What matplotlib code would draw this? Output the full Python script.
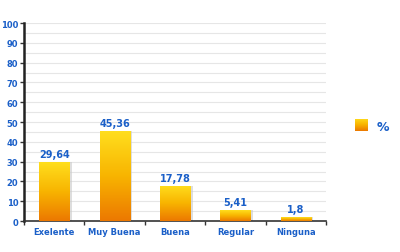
import numpy as np
import matplotlib
matplotlib.use('Agg')
import matplotlib.pyplot as plt
from matplotlib.colors import LinearSegmentedColormap

categories = ['Exelente', 'Muy Buena', 'Buena', 'Regular', 'Ninguna']
values = [29.64, 45.36, 17.78, 5.41, 1.8]
value_labels = ['29,64', '45,36', '17,78', '5,41', '1,8']
legend_label = '%'

blue = '#1a5fc8'
grad = LinearSegmentedColormap.from_list('g', ['#ec7800', '#f8b400', '#ffde1e'])

fig = plt.figure(figsize=(4.0, 2.53), dpi=100)
ax = fig.add_axes([0.06, 0.1225, 0.755, 0.7825])

x = np.arange(len(categories))
ax.set_xlim(-0.5, len(categories) - 0.5)
ax.set_ylim(0, 100)

# grid
for yv in range(5, 101, 5):
    ax.axhline(yv, color='#e6e6e6', lw=0.8, zorder=0)

bars = ax.bar(x, values, width=0.5, color='none', zorder=2)
gimg = np.linspace(0, 1, 256).reshape(-1, 1)
for b in bars:
    x0, w, h = b.get_x(), b.get_width(), b.get_height()
    # shadow
    ax.bar(x0 + w / 2 + 0.04, h, width=w, color='#c8c8c8', alpha=0.6, zorder=1)
    im = ax.imshow(gimg, cmap=grad, origin='lower', aspect='auto',
                   extent=[x0, x0 + w, 0, h], zorder=3)
    im.set_clip_path(b)

for xi, v, lab in zip(x, values, value_labels):
    ax.text(xi, v + 1.5, lab, ha='center', va='bottom', color=blue,
            fontsize=7, fontweight='bold', zorder=4)

ax.set_yticks(range(0, 101, 10))
ax.set_yticklabels([str(t) for t in range(0, 101, 10)], color=blue,
                   fontsize=6, fontweight='bold')
ax.set_xticks(x)
ax.set_xticklabels(categories, color=blue, fontsize=6, fontweight='bold')
ax.tick_params(axis='x', length=0, pad=4)
ax.set_xticks(np.arange(-0.5, len(categories), 1.0), minor=True)
ax.tick_params(axis='x', which='minor', length=3, width=1, color='#333333', direction='out')
ax.tick_params(axis='y', length=3, width=1, color='#333333', pad=1)

for s in ['top', 'right']:
    ax.spines[s].set_visible(False)
ax.spines['left'].set_linewidth(1.8)
ax.spines['left'].set_color('#222222')
ax.spines['bottom'].set_linewidth(1.2)
ax.spines['bottom'].set_color('#333333')

# legend
lax = fig.add_axes([0.888, 0.478, 0.032, 0.048])
lax.imshow(gimg, cmap=grad, origin='lower', aspect='auto', extent=[0, 1, 0, 1])
lax.set_axis_off()
fig.text(0.958, 0.497, legend_label, color=blue, fontsize=9, fontweight='bold',
         ha='center', va='center')

fig.savefig('out.png', dpi=100)
